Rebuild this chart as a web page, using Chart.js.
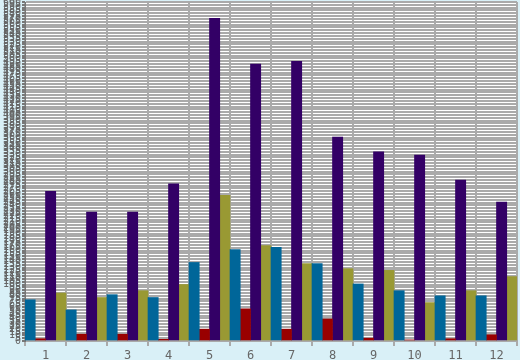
<!DOCTYPE html>
<html><head><meta charset="utf-8">
<script src="https://cdn.jsdelivr.net/npm/chart.js@4/dist/chart.umd.min.js"></script>
<style>html,body{margin:0;padding:0;background:#d9f0f7;}#w{width:520px;height:360px;}</style>
</head><body><div id="w"><canvas id="c" width="520" height="360"></canvas></div>
<script>
const categories = ['1','2','3','4','5','6','7','8','9','10','11','12'];
const seriesBlue   = [73, 55, 82, 77, 139, 162, 166, 137, 101, 89, 80, 80];
const seriesRed    = [4, 12, 12, 3, 21, 57, 21, 39, 5, 2, 4, 11];
const seriesPurple = [265, 228, 228, 278, 571, 490, 495, 361, 335, 329, 285, 246];
const seriesOlive  = [85, 77, 89, 100, 258, 169, 137, 128, 125, 68, 89, 114];
const yMin = 0, yMax = 600, yStep = 5;

const bgPlugin = {
  id: 'bg',
  beforeDraw(chart) {
    const {ctx, chartArea: a} = chart;
    ctx.save();
    ctx.fillStyle = '#d9f0f7';
    ctx.fillRect(0, 0, chart.width, chart.height);
    ctx.fillStyle = '#ffffff';
    ctx.fillRect(a.left, a.top, a.right - a.left, a.bottom - a.top);
    ctx.restore();
  }
};

const mk = (data, color) => ({data, backgroundColor: color, borderWidth: 0, categoryPercentage: 1, barPercentage: 1});

new Chart(document.getElementById('c'), {
  type: 'bar',
  data: {
    labels: categories,
    datasets: [
      mk(seriesBlue, '#006699'),
      mk(seriesRed, '#990000'),
      mk(seriesPurple, '#330066'),
      mk(seriesOlive, '#999933')
    ]
  },
  options: {
    responsive: false,
    animation: false,
    layout: {padding: {top: 2, right: 3, left: 0, bottom: 0}},
    plugins: {legend: {display: false}, tooltip: {enabled: false}},
    scales: {
      x: {
        grid: {color: '#aaaaaa', lineWidth: 2, tickLength: 5, offset: true},
        border: {display: false},
        ticks: {color: '#666666', font: {family: 'DejaVu Sans Mono', size: 12}, padding: 3},
        afterFit(s) { s.height = 19; s.paddingLeft = 0; s.paddingRight = 0; }
      },
      y: {
        min: yMin, max: yMax,
        grid: {color: '#aaaaaa', lineWidth: 2, tickLength: 3, tickColor: '#777777'},
        border: {display: true, color: '#777777', width: 1},
        ticks: {stepSize: yStep, autoSkip: false, color: '#666666', font: {family: 'DejaVu Sans Mono', size: 10}, padding: 1},
        afterFit(s) { s.width = 25; s.paddingTop = 0; s.paddingBottom = 0; }
      }
    }
  },
  plugins: [bgPlugin]
});
</script></body></html>
